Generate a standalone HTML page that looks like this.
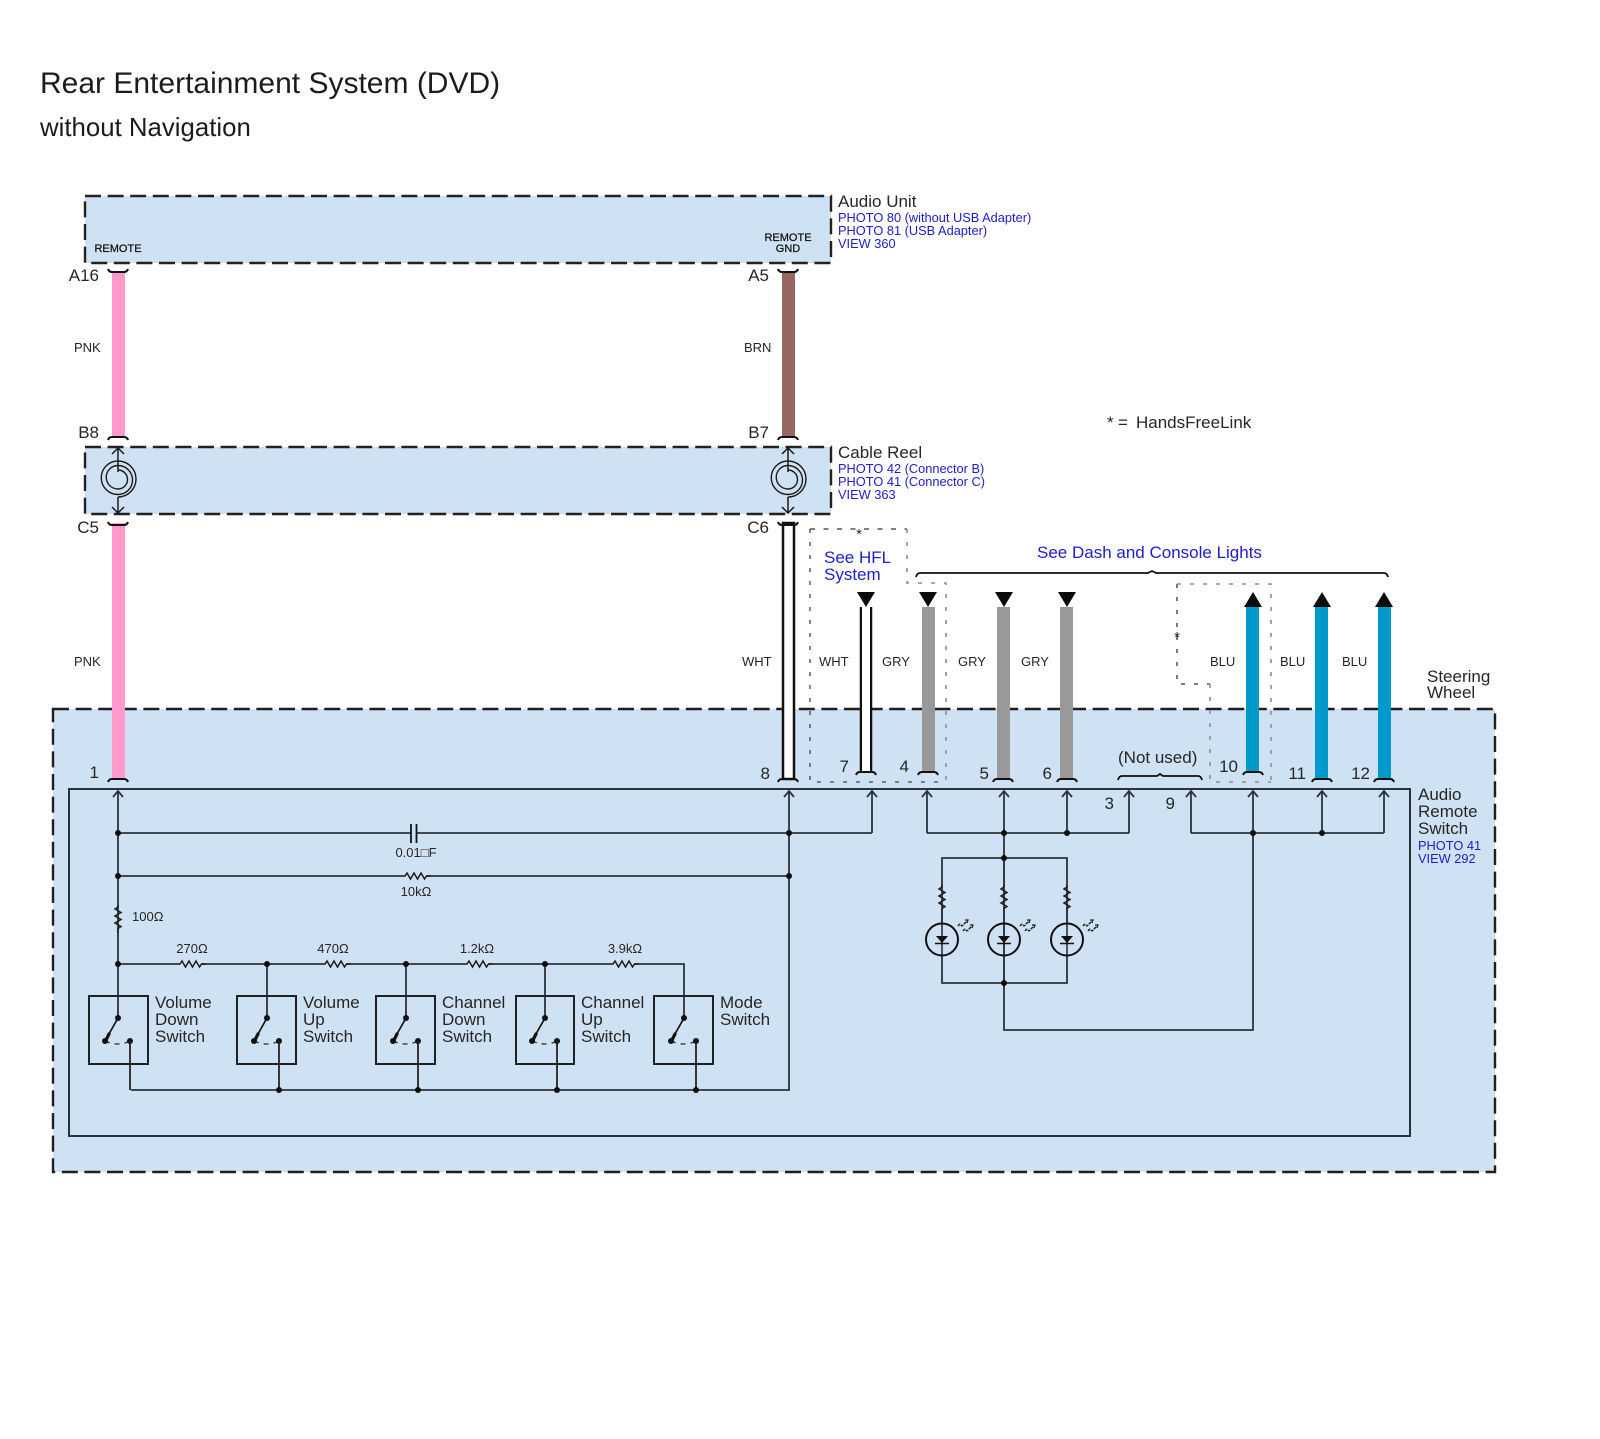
<!DOCTYPE html>
<html>
<head>
<meta charset="utf-8">
<title>Rear Entertainment System (DVD)</title>
<style>
html,body{margin:0;padding:0;background:#fff;width:1600px;height:1439px;overflow:hidden}
svg{display:block;filter:blur(0.35px)}
text{font-family:"Liberation Sans",Arial,sans-serif;fill:#262626}
.l{font-size:17px}
.b{font-size:12.8px;fill:#2020c8}
.bl{font-size:17px;fill:#2020c8}
.w{font-size:13px}
.v{font-size:13px}
.p{font-size:11px;fill:#111;stroke:#111;stroke-width:.25px}
.e{text-anchor:end}
.m{text-anchor:middle}
</style>
</head>
<body>
<svg width="1600" height="1439" viewBox="0 0 1600 1439" xmlns="http://www.w3.org/2000/svg">
<defs>
<path id="rh" d="M-12 0h2l2-3 3.500 6 3.500-6 3.500 6 3.500-6 3.500 6 2-3h4" fill="none" stroke="#1c1c1c" stroke-width="1.500"/>
<path id="rv" d="M0-12v2l-3 2 6 3.500-6 3.500 6 3.500-6 3.500 6 3.500-3 2v4" fill="none" stroke="#1c1c1c" stroke-width="1.500"/>
<g id="sw">
<path d="M0 1018L-13 1041" stroke="#111" stroke-width="1.700" fill="none"/>
<path d="M-8.500 1033L-12.500 1041" stroke="#111" stroke-width="3.200" fill="none"/>
<path d="M-13 1041Q0 1047 12 1041" stroke="#333" stroke-width="1.300" fill="none" stroke-dasharray="5 5"/>
<circle cx="0" cy="1018" r="3" fill="#111"/>
<circle cx="-13" cy="1041" r="3" fill="#111"/>
<circle cx="12" cy="1041" r="3" fill="#111"/>
<path d="M12 1041V1090" stroke="#222" stroke-width="1.800" fill="none"/>
</g>
<g id="led">
<circle cx="0" cy="939.500" r="16" fill="none" stroke="#111" stroke-width="2"/>
<path d="M-6 936H6L0 943Z" fill="#111"/>
<path d="M-7 943.500H7" stroke="#111" stroke-width="1.500"/>
<path d="M16 926q2-3 3-1t3-1l3-3M21 931q2-3 3-1t3-1l3-3" fill="none" stroke="#222" stroke-width="1.500" stroke-dasharray="3 1"/>
<path d="M23 920l3 0-1 3M28 925l3 0-1 3" fill="none" stroke="#222" stroke-width="1.200"/>
</g>
<g id="reel">
<path d="M0 470A9.500 9.500 0 0 1 0 489A11.750 11.750 0 0 1 0 465.500A14.500 14.500 0 0 1 0 494.500A16.750 16.750 0 0 1 0 461A18 18 0 0 1 0 497" fill="none" stroke="#1a1a1a" stroke-width="1.400"/>
<path d="M0 448V472M-6 454L0 448L6 454M0 497V513M-6 507L0 513L6 507" fill="none" stroke="#1a1a1a" stroke-width="1.500"/>
</g>
<path id="ct" d="M-10 269Q-9 272-6 272H6Q9 272 10 269" fill="none" stroke="#111" stroke-width="2"/>
<path id="cb" d="M-10 10Q-9 7-6 7H6Q9 7 10 10" fill="none" stroke="#111" stroke-width="2"/>
<path id="ar" d="M-5 797L0 791L5 797M0 791V833" fill="none" stroke="#2a333c" stroke-width="1.800"/>
</defs>

<rect width="1600" height="1439" fill="#fff"/>

<text x="40" y="93" font-size="30" style="fill:#1c1c1c">Rear Entertainment System (DVD)</text>
<text x="40" y="136" font-size="25.800" style="fill:#1c1c1c">without Navigation</text>

<!-- Boxes -->
<rect x="85" y="196" width="746" height="67" fill="#cfe2f3" stroke="#222" stroke-width="2.400" stroke-dasharray="16 6.600"/>
<rect x="85" y="447" width="746" height="67" fill="#cfe2f3" stroke="#222" stroke-width="2.400" stroke-dasharray="16 6.600"/>
<rect x="53" y="709" width="1442" height="463" fill="#cfe2f3" stroke="#1f1f1f" stroke-width="2.400" stroke-dasharray="16 6.600"/>
<rect x="69" y="789" width="1341" height="347" fill="none" stroke="#2a333c" stroke-width="2"/>

<!-- Dashed HFL -->
<g fill="none" stroke-width="1.300">
<path d="M810 529H907" stroke="#333" stroke-dasharray="5 8.500"/>
<path d="M810 529V782H946" stroke="#444" stroke-dasharray="4 9"/>
<path d="M907 529V583H946V782" stroke="#8a8f96" stroke-width="1.600" stroke-dasharray="4 9"/>
<path d="M1177 584V684H1210" stroke="#333" stroke-dasharray="4 9"/>
<path d="M1177 584H1271V782" stroke="#8a8f96" stroke-width="1.600" stroke-dasharray="4 9"/>
<path d="M1210 684V782H1271" stroke="#8a8f96" stroke-width="1.600" stroke-dasharray="4 9"/>
</g>
<text x="859" y="539" class="m" font-size="15">*</text>
<text x="1177" y="642" class="m" font-size="15">*</text>

<!-- Wires -->
<rect x="112" y="272" width="13" height="165" fill="#ff99cc"/>
<rect x="112" y="523" width="13" height="256" fill="#ff99cc"/>
<rect x="782" y="272" width="13" height="165" fill="#996666"/>
<rect x="783" y="523" width="11" height="256" fill="#fff" stroke="#111" stroke-width="2.500"/>
<path d="M861 607V772M871 607V772" stroke="#111" stroke-width="2.500" fill="none"/>
<rect x="862" y="607" width="8" height="165" fill="#fff"/>
<rect x="922" y="607" width="13" height="165" fill="#999"/>
<rect x="997" y="607" width="13" height="172" fill="#999"/>
<rect x="1060" y="607" width="13" height="172" fill="#999"/>
<rect x="1246" y="607" width="13" height="165" fill="#0099cc"/>
<rect x="1315" y="607" width="13" height="172" fill="#0099cc"/>
<rect x="1378" y="607" width="13" height="172" fill="#0099cc"/>

<!-- Arrowheads to wires -->
<g fill="#0a0a0a">
<path d="M857 592H875L866 607Z"/>
<path d="M919 592H937L928 607Z"/>
<path d="M995 592H1013L1004 607Z"/>
<path d="M1058 592H1076L1067 607Z"/>
<path d="M1244 607H1262L1253 592Z"/>
<path d="M1313 607H1331L1322 592Z"/>
<path d="M1375 607H1393L1384 592Z"/>
</g>

<!-- Connector caps -->
<use href="#ct" x="118"/>
<use href="#ct" x="788"/>
<use href="#ct" x="118" y="253"/>
<use href="#ct" x="788" y="253"/>
<use href="#cb" x="118" y="430"/>
<use href="#cb" x="788" y="430"/>
<use href="#cb" x="118" y="772"/>
<use href="#cb" x="788" y="772"/>
<use href="#cb" x="866" y="765"/>
<use href="#cb" x="928" y="765"/>
<use href="#cb" x="1003" y="772"/>
<use href="#cb" x="1067" y="772"/>
<use href="#cb" x="1253" y="765"/>
<use href="#cb" x="1322" y="772"/>
<use href="#cb" x="1384" y="772"/>

<!-- Reels -->
<use href="#reel" x="118"/>
<use href="#reel" x="788"/>

<!-- Braces -->
<path d="M916 577Q917 573 920 573H1148L1152 571L1156 573H1384Q1387 573 1388 577" fill="none" stroke="#111" stroke-width="1.800"/>
<path d="M1118 780Q1119 776 1122 776H1157L1160 774L1163 776H1198Q1201 776 1202 780" fill="none" stroke="#111" stroke-width="1.800"/>

<!-- Inner wiring -->
<use href="#ar" x="118"/>
<use href="#ar" x="789"/>
<use href="#ar" x="872"/>
<use href="#ar" x="927"/>
<use href="#ar" x="1004"/>
<use href="#ar" x="1067"/>
<use href="#ar" x="1129"/>
<use href="#ar" x="1191"/>
<use href="#ar" x="1253"/>
<use href="#ar" x="1322"/>
<use href="#ar" x="1384"/>

<g fill="none" stroke="#2a333c" stroke-width="1.800">
<path d="M118 833V1018"/>
<path d="M118 833H411"/>
<path d="M417 833H872"/>
<path d="M118 876H403M427 876H789"/>
<path d="M789 833V1090H131"/>
<path d="M927 833H1129"/>
<path d="M1191 833H1384"/>
<path d="M1004 833V1030H1253V833"/>
<path d="M942 923V858H1067V923"/>
<path d="M942 955V983H1067V955"/>
<path d="M118 964H178M202 964H323M347 964H465M489 964H611M635 964H684V1018"/>
<path d="M267 964V1018M406 964V1018M545 964V1018"/>
</g>
<path d="M411 824V843M416.500 824V843" stroke="#111" stroke-width="1.800" fill="none"/>

<rect x="89" y="996" width="59" height="68" fill="none" stroke="#1c2228" stroke-width="2"/>
<rect x="237" y="996" width="59" height="68" fill="none" stroke="#1c2228" stroke-width="2"/>
<rect x="376" y="996" width="59" height="68" fill="none" stroke="#1c2228" stroke-width="2"/>
<rect x="516" y="996" width="58" height="68" fill="none" stroke="#1c2228" stroke-width="2"/>
<rect x="654" y="996" width="59" height="68" fill="none" stroke="#1c2228" stroke-width="2"/>

<use href="#sw" x="118"/>
<use href="#sw" x="267"/>
<use href="#sw" x="406"/>
<use href="#sw" x="545"/>
<use href="#sw" x="684"/>

<!-- Resistors -->
<use href="#rh" x="415" y="876"/>
<use href="#rv" x="118" y="917"/>
<use href="#rh" x="190" y="964"/>
<use href="#rh" x="335" y="964"/>
<use href="#rh" x="477" y="964"/>
<use href="#rh" x="623" y="964"/>
<use href="#rv" x="942" y="897"/>
<use href="#rv" x="1004" y="897"/>
<use href="#rv" x="1067" y="897"/>
<path d="M942 909V955M1004 858V885M1004 909V983M1067 909V955" stroke="#2a333c" stroke-width="1.600" fill="none"/>
<use href="#led" x="942"/>
<use href="#led" x="1004"/>
<use href="#led" x="1067"/>

<!-- Junction dots -->
<g fill="#0e0e0e">
<circle cx="118" cy="833" r="3"/>
<circle cx="118" cy="876" r="3"/>
<circle cx="118" cy="964" r="3"/>
<circle cx="267" cy="964" r="3"/>
<circle cx="406" cy="964" r="3"/>
<circle cx="545" cy="964" r="3"/>
<circle cx="789" cy="833" r="3"/>
<circle cx="789" cy="876" r="3"/>
<circle cx="279" cy="1090" r="3"/>
<circle cx="418" cy="1090" r="3"/>
<circle cx="557" cy="1090" r="3"/>
<circle cx="696" cy="1090" r="3"/>
<circle cx="1004" cy="833" r="3"/>
<circle cx="1067" cy="833" r="3"/>
<circle cx="1253" cy="833" r="3"/>
<circle cx="1322" cy="833" r="3"/>
<circle cx="1004" cy="858" r="3"/>
<circle cx="1004" cy="983" r="3"/>
</g>

<!-- Labels: connectors -->
<text x="118" y="252" class="p m">REMOTE</text>
<text x="788" y="241" class="p m">REMOTE</text>
<text x="788" y="252" class="p m">GND</text>
<text x="99" y="281" class="l e">A16</text>
<text x="99" y="438" class="l e">B8</text>
<text x="99" y="533" class="l e">C5</text>
<text x="769" y="281" class="l e">A5</text>
<text x="769" y="438" class="l e">B7</text>
<text x="769" y="533" class="l e">C6</text>

<text x="74" y="352" class="w">PNK</text>
<text x="74" y="666" class="w">PNK</text>
<text x="744" y="352" class="w">BRN</text>
<text x="742" y="666" class="w">WHT</text>
<text x="819" y="666" class="w">WHT</text>
<text x="882" y="666" class="w">GRY</text>
<text x="958" y="666" class="w">GRY</text>
<text x="1021" y="666" class="w">GRY</text>
<text x="1210" y="666" class="w">BLU</text>
<text x="1280" y="666" class="w">BLU</text>
<text x="1342" y="666" class="w">BLU</text>

<text x="838" y="207" class="l">Audio Unit</text>
<text x="838" y="222" class="b">PHOTO 80 (without USB Adapter)</text>
<text x="838" y="235" class="b">PHOTO 81 (USB Adapter)</text>
<text x="838" y="248" class="b">VIEW 360</text>
<text x="838" y="458" class="l">Cable Reel</text>
<text x="838" y="473" class="b">PHOTO 42 (Connector B)</text>
<text x="838" y="486" class="b">PHOTO 41 (Connector C)</text>
<text x="838" y="499" class="b">VIEW 363</text>
<text x="1107" y="428" class="l">*</text>
<text x="1118" y="428" class="l">=</text>
<text x="1136" y="428" class="l">HandsFreeLink</text>

<text x="824" y="563" class="bl">See HFL</text>
<text x="824" y="580" class="bl">System</text>
<text x="1037" y="558" class="bl">See Dash and Console Lights</text>

<text x="1427" y="682" class="l">Steering</text>
<text x="1427" y="698" class="l">Wheel</text>
<text x="1118" y="763" class="l">(Not used)</text>

<text x="99" y="778" class="l e">1</text>
<text x="770" y="779" class="l e">8</text>
<text x="849" y="772" class="l e">7</text>
<text x="909" y="772" class="l e">4</text>
<text x="989" y="779" class="l e">5</text>
<text x="1052" y="779" class="l e">6</text>
<text x="1238" y="772" class="l e">10</text>
<text x="1306" y="779" class="l e">11</text>
<text x="1370" y="779" class="l e">12</text>
<text x="1114" y="809" class="l e">3</text>
<text x="1175" y="809" class="l e">9</text>

<text x="1418" y="800" class="l">Audio</text>
<text x="1418" y="817" class="l">Remote</text>
<text x="1418" y="834" class="l">Switch</text>
<text x="1418" y="850" class="b">PHOTO 41</text>
<text x="1418" y="863" class="b">VIEW 292</text>

<text x="416" y="857" class="v m">0.01□F</text>
<text x="416" y="896" class="v m">10kΩ</text>
<text x="132" y="921" class="v">100Ω</text>
<text x="192" y="953" class="v m">270Ω</text>
<text x="333" y="953" class="v m">470Ω</text>
<text x="477" y="953" class="v m">1.2kΩ</text>
<text x="625" y="953" class="v m">3.9kΩ</text>

<text x="155" y="1008" class="l">Volume</text>
<text x="155" y="1025" class="l">Down</text>
<text x="155" y="1042" class="l">Switch</text>
<text x="303" y="1008" class="l">Volume</text>
<text x="303" y="1025" class="l">Up</text>
<text x="303" y="1042" class="l">Switch</text>
<text x="442" y="1008" class="l">Channel</text>
<text x="442" y="1025" class="l">Down</text>
<text x="442" y="1042" class="l">Switch</text>
<text x="581" y="1008" class="l">Channel</text>
<text x="581" y="1025" class="l">Up</text>
<text x="581" y="1042" class="l">Switch</text>
<text x="720" y="1008" class="l">Mode</text>
<text x="720" y="1025" class="l">Switch</text>
</svg>
</body>
</html>
